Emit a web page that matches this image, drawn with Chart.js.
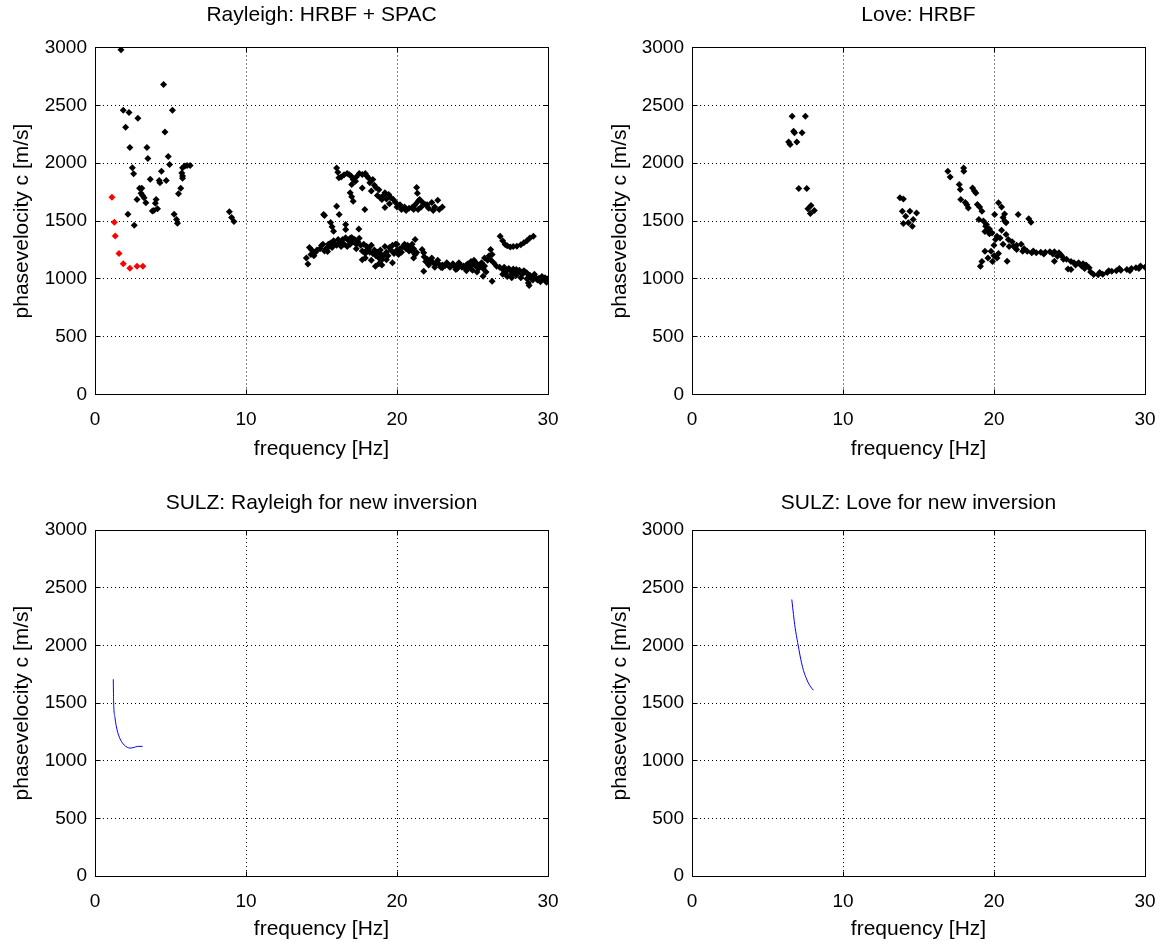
<!DOCTYPE html>
<html>
<head>
<meta charset="utf-8">
<script src="https://cdn.jsdelivr.net/npm/chart.js@4.4.1/dist/chart.umd.min.js"></script>
<style>
html,body{margin:0;padding:0;background:#fff;overflow:hidden;}
#wrap{position:relative;width:1163px;height:942px;background:#fff;}
canvas{position:absolute;display:block;}
</style>
</head>
<body>
<div id="wrap">
<canvas id="c1" width="581" height="471" style="left:0;top:0"></canvas>
<canvas id="c2" width="582" height="471" style="left:581px;top:0"></canvas>
<canvas id="c3" width="581" height="471" style="left:0;top:471px"></canvas>
<canvas id="c4" width="582" height="471" style="left:581px;top:471px"></canvas>
</div>
<script>
// ---------- data (frequency [Hz], phase velocity [m/s]) ----------
const panelTitles = ["Rayleigh: HRBF + SPAC", "Love: HRBF", "SULZ: Rayleigh for new inversion", "SULZ: Love for new inversion"];
const xAxisTitle = "frequency [Hz]";
const yAxisTitle = "phasevelocity c [m/s]";
const xTickValues = [0, 10, 20, 30];
const yTickValues = [0, 500, 1000, 1500, 2000, 2500, 3000];

// Rayleigh HRBF, low-frequency scatter
const rayleighLow = [
 [1.72,2980],[4.54,2680],[1.87,2457],[2.25,2437],[5.13,2457],[2.84,2388],[2.03,2310],[4.63,2270],
 [2.31,2135],[3.44,2135],[4.85,2057],[3.5,2040],[4.94,1988],[5.8,1960],[5.95,1975],[6.1,1980],[6.3,1980],
 [2.47,1960],[2.56,1908],[4.4,1930],[5.75,1915],[5.8,1890],[5.8,1870],[3.66,1861],[4.25,1850],[4.3,1830],
 [4.72,1850],[2.95,1783],[3.1,1783],[5.68,1783],[3.05,1740],[3.15,1720],[3.25,1700],[5.53,1735],[2.78,1685],
 [4.05,1685],[4.0,1653],[3.37,1657],[4.14,1605],[3.8,1587],[3.9,1590],[2.18,1558],[5.24,1558],[5.4,1512],
 [5.46,1480],[2.6,1463],[8.9,1580],[9.05,1530],[9.2,1495]
];
// Rayleigh SPAC (red)
const rayleighSpac = [
 [1.12,1705],[1.28,1489],[1.34,1371],[1.59,1218],[1.87,1130],[2.31,1092],[2.78,1109],[3.17,1109]
];
// Rayleigh HRBF, high-frequency upper branch
const rayleighUpper = [
 [16.0,1959],[16.08,1921],[16.15,1873],[16.7,1910],[16.85,1900],[16.97,1886],[17.1,1858],[17.25,1843],
 [17.5,1910],[17.7,1901],[18.0,1890],[18.1,1873],[18.4,1858],[17.0,1815],[17.7,1786],[16.9,1745],
 [17.0,1710],[17.1,1671],[17.87,1599],[18.6,1790],[18.8,1770],[18.7,1720],[19.0,1685],[19.2,1745],
 [19.45,1730],[19.6,1700],[19.76,1685],[19.9,1660],[20.2,1640],[20.5,1620],[20.8,1610],[21.1,1610],
 [19.2,1616],[21.0,1616],[21.1,1599],[21.3,1790],[21.35,1740],[21.4,1670],[21.5,1685],[21.7,1660],
 [21.9,1640],[21.6,1620],[21.4,1600],[22.0,1640],[22.3,1660],[22.5,1620],[22.7,1680],[23.0,1620],[22.8,1600],
 [16.3,1880],[16.5,1900],[17.3,1880],[17.9,1910],[18.2,1830],[18.5,1810],[18.3,1760],[18.9,1700],
 [19.1,1720],[19.3,1690],[19.5,1650],[20.0,1620],[20.3,1600],[20.6,1590],[21.2,1640],[22.1,1610],[22.4,1590],
 [16.0,1627],[16.17,1556],[15.14,1556],[15.2,1547],[15.6,1486],[15.7,1450],[15.8,1411],[16.6,1469],
 [16.6,1426],[17.47,1431]
];
// Rayleigh HRBF, high-frequency lower branch
const rayleighLower = [
 [14.0,1181],[14.1,1129],[14.2,1270],[14.35,1250],[14.5,1200],[14.7,1250],[15.0,1288],[15.1,1300],
 [15.4,1236],[15.6,1310],[15.8,1330],[16.0,1290],[16.2,1320],[16.4,1340],[16.6,1355],[16.8,1330],
 [17.0,1357],[17.2,1340],[17.4,1320],[17.6,1290],[17.7,1240],[17.9,1220],[18.1,1260],[18.3,1290],
 [18.4,1220],[18.6,1200],[18.8,1180],[19.0,1166],[18.57,1108],[17.7,1166],[19.3,1230],[19.5,1270],
 [19.7,1290],[19.9,1300],[20.2,1260],[20.4,1280],[20.6,1260],[20.8,1240],[21.0,1240],[21.2,1210],
 [19.3,1166],[19.7,1140],[15.3,1260],[15.5,1280],[16.3,1280],[16.9,1300],[17.3,1260],[18.0,1250],
 [18.9,1220],[19.4,1200],[20.0,1250],[20.1,1210],[20.7,1290],[21.0,1300],[21.2,1340],[21.1,1260],
 [21.3,1227],[21.66,1253],[21.77,1225],
 [14.3,1210],[14.6,1230],[14.9,1260],[15.2,1240],[15.45,1300],[15.7,1270],[15.9,1300],[16.1,1340],
 [16.3,1310],[16.5,1300],[16.7,1280],[16.9,1350],[17.1,1320],[17.3,1300],[17.5,1350],[17.8,1300],
 [18.0,1280],[18.2,1230],[18.5,1250],[18.7,1230],[18.9,1250],[19.1,1200],[19.2,1280],[19.6,1250],
 [19.8,1220],[20.0,1300],[20.3,1230],[20.5,1300],[20.9,1270],[21.1,1180],[18.3,1160],[18.8,1130],
 [19.0,1120],[17.9,1180],
 [21.8,1190],[22.0,1170],[22.2,1150],[22.4,1140],[22.6,1130],[22.8,1125],[23.0,1120],[23.2,1115],
 [23.4,1120],[23.6,1110],[23.8,1110],[24.0,1115],[24.2,1120],[24.4,1110],[24.6,1120],[24.8,1100],
 [25.0,1130],[25.2,1110],[25.4,1090],[21.77,1066],[22.5,1100],[23.0,1095],[23.5,1100],[24.0,1090],
 [24.5,1095],[25.0,1075],[25.5,1110],[25.7,1090],
 [21.9,1150],[22.1,1120],[22.3,1180],[22.7,1160],[22.9,1100],[23.3,1140],[23.7,1130],[24.1,1140],
 [24.3,1100],[24.7,1130],[24.9,1150],[25.1,1160],[25.3,1130],[25.6,1140],[25.8,1110],[23.9,1080],
 [24.6,1070],[25.3,1060],[25.9,1060],[26.0,1160],[26.1,1200],[25.8,1180],
 [26.2,1253],[26.3,1210],[26.2,1166],[26.4,1140],[26.6,1108],[25.7,1022],[26.3,979],
 [26.8,1100],[27.0,1080],[27.2,1070],[27.5,1075],[27.7,1085],[27.9,1080],[28.1,1075],[28.4,1070],
 [28.6,1050],[28.8,1030],[29.0,1020],[29.2,1010],[29.4,1005],[29.6,1000],[29.8,990],[30.0,985],
 [27.0,1040],[27.3,1020],[27.6,1010],[27.9,1030],[28.2,1010],[28.6,1000],[28.7,965],[28.75,942],
 [29.0,990],[29.5,975],[29.9,970],
 [27.1,1100],[27.4,1090],[27.8,1060],[28.0,1050],[28.3,1040],[28.5,1060],[28.9,1000],[29.1,1040],
 [29.3,990],[29.6,1020],[29.8,1010],[30.0,1000],[27.2,1050],[27.6,1040],
 [26.83,1368],[27.0,1330],[27.16,1296],[27.3,1285],[27.5,1276],[27.7,1280],[27.94,1282],[28.2,1295],
 [28.4,1311],[28.6,1330],[28.8,1354],[29.03,1368]
];
// Love HRBF
const loveHrbf = [
 [6.63,2405],[7.51,2405],[6.73,2276],[6.79,2262],[7.29,2262],[6.4,2182],[6.5,2161],[6.94,2182],
 [7.07,1780],[7.6,1780],[7.88,1633],[7.68,1605],[8.1,1590],[7.84,1565],
 [13.77,1700],[14.0,1690],[13.93,1584],[14.43,1584],[14.87,1570],[14.15,1541],[14.65,1512],[14.0,1478],
 [14.33,1484],[14.59,1455],
 [16.94,1930],[17.1,1881],[17.99,1959],[18.0,1930],[17.7,1815],[17.77,1772],[18.58,1786],[18.7,1760],
 [18.8,1743],[17.8,1685],[18.1,1660],[18.3,1613],[18.2,1640],[18.9,1642],[19.05,1620],[19.2,1584],
 [19.0,1512],[20.3,1657],[20.04,1556],[20.6,1530],[20.7,1500],[20.8,1484],[21.6,1556],[19.45,1455],
 [19.6,1420],[19.7,1430],[19.87,1397],[19.4,1410],[20.2,1368],[20.4,1354],[20.1,1340],[20.8,1383],
 [20.95,1340],[21.4,1268],[21.5,1253],[19.4,1238],[19.6,1180],[19.8,1238],[20.0,1200],[20.2,1180],
 [19.2,1150],[19.1,1108],[20.87,1152],[22.3,1520],[22.45,1490],
 [19.3,1500],[19.5,1470],[19.7,1390],[20.5,1420],[20.6,1300],[20.0,1290],[19.9,1150],[20.3,1220],
 [21.0,1280],[21.2,1320],[20.5,1620],[20.7,1560],
 [21.3,1282],[21.5,1290],[21.8,1300],[21.9,1238],[22.2,1238],[22.5,1225],[22.8,1225],[23.1,1230],
 [23.4,1230],[23.7,1235],[24.0,1235],[24.3,1225],[24.4,1210],[24.0,1152],[24.5,1195],[24.8,1170],
 [25.1,1150],[25.3,1140],[25.6,1140],[25.9,1130],[26.1,1120],[26.3,1095],[24.9,1085],[25.1,1080],
 [26.4,1060],[26.6,1037],[26.9,1035],[27.2,1040],[27.5,1055],[27.8,1065],[28.1,1070],[28.4,1075],
 [28.8,1080],[29.1,1090],[29.4,1095],[29.7,1110],[30.0,1100],
 [22.0,1260],[22.6,1240],[23.3,1215],[23.9,1215],[24.6,1170],[25.4,1120],[25.8,1110],[26.0,1090],
 [27.0,1055],[27.6,1070],[28.3,1090],[29.0,1070],[29.6,1090],[24.2,1195]
];
// SULZ curves
const sulzRayleighFreq = [1.21,1.23,1.32,1.45,1.67,1.94,2.33,2.6,2.82,3.15];
const sulzRayleighVel  = [1706,1524,1375,1273,1187,1135,1109,1115,1124,1124];
const sulzLoveFreq = [6.61,6.72,6.83,7.0,7.16,7.33,7.55,7.81,8.04];
const sulzLoveVel  = [2397,2268,2153,2023,1908,1807,1720,1649,1611];

// ---------- helpers ----------
const FONT = "'Liberation Sans', Arial, Helvetica, sans-serif";
const TITLE_SIZE = 21, LABEL_SIZE = 21, TICK_SIZE = 19;
const toPts = arr => arr.map(p => ({x: p[0], y: p[1]}));
const toPtsXY = (xs, ys) => xs.map((v, i) => ({x: v, y: ys[i]}));

function scatterSet(pts, color) {
  return {data: toPts(pts), showLine: false, pointStyle: 'rectRot', pointRadius: 3.5,
          pointBackgroundColor: color, pointBorderWidth: 0, pointHoverRadius: 3.5};
}
function lineSet(pts, color) {
  return {data: pts, showLine: true, borderColor: color, borderWidth: 1, pointRadius: 0,
          tension: 0.4, cubicInterpolationMode: 'monotone', fill: false};
}

const al = p => Math.round(p - 0.5) + 0.5;
const boxPlugin = {
  id: 'matlabBox',
  afterDraw(chart) {
    const {ctx, chartArea: a, scales: {x, y}} = chart;
    const L = al(a.left), R = al(a.right), T = al(a.top), B = al(a.bottom);
    ctx.save();
    ctx.setLineDash([]);
    ctx.strokeStyle = '#000';
    ctx.lineWidth = 1;
    ctx.strokeRect(L, T, R - L, B - T);
    ctx.beginPath();
    xTickValues.forEach(v => {
      const px = al(x.getPixelForValue(v));
      ctx.moveTo(px, B); ctx.lineTo(px, B - 5);
      ctx.moveTo(px, T); ctx.lineTo(px, T + 5);
    });
    yTickValues.forEach(v => {
      const py = al(y.getPixelForValue(v));
      ctx.moveTo(L, py); ctx.lineTo(L + 5, py);
      ctx.moveTo(R, py); ctx.lineTo(R - 5, py);
    });
    ctx.stroke();
    ctx.restore();
  }
};

function makePanel(id, title, datasets, g) {
  new Chart(document.getElementById(id), {
    type: 'scatter',
    data: {datasets},
    plugins: [boxPlugin],
    options: {
      responsive: false, animation: false, devicePixelRatio: 1,
      layout: {padding: {left: g.padLeft, right: g.padRight, top: 0, bottom: 0}},
      plugins: {
        legend: {display: false}, tooltip: {enabled: false},
        title: {display: true, text: title, color: '#000', fullSize: false,
                font: {family: FONT, size: TITLE_SIZE, weight: 'normal', lineHeight: 1.2},
                padding: {top: g.tTop, bottom: g.tBot}}
      },
      scales: {
        x: {
          type: 'linear', position: 'bottom', min: 0, max: 30,
          afterBuildTicks: s => { s.ticks = xTickValues.map(v => ({value: v})); },
          afterFit: s => { s.height = g.xHeight; s.paddingLeft = 0; s.paddingRight = 0; },
          ticks: {color: '#000', font: {family: FONT, size: TICK_SIZE}, padding: 14.3, maxRotation: 0,
                  callback: v => String(v)},
          grid: {color: '#000', lineWidth: 1, drawTicks: false},
          border: {display: false, dash: [1, 3]},
          title: {display: true, text: xAxisTitle, color: '#000',
                  font: {family: FONT, size: LABEL_SIZE, lineHeight: 1.2}, padding: {top: 0, bottom: g.xtBot}}
        },
        y: {
          type: 'linear', position: 'left', min: 0, max: 3000,
          afterBuildTicks: s => { s.ticks = yTickValues.map(v => ({value: v})); },
          afterFit: s => { s.width = g.yWidth; s.paddingTop = 0; s.paddingBottom = 0; },
          ticks: {color: '#000', font: {family: FONT, size: TICK_SIZE}, padding: 8,
                  callback: v => String(v)},
          grid: {color: '#000', lineWidth: 1, drawTicks: false},
          border: {display: false, dash: [1, 3]},
          title: {display: true, text: yAxisTitle, color: '#000',
                  font: {family: FONT, size: LABEL_SIZE, lineHeight: 1.2}, padding: {top: 9.4, bottom: 0}}
        }
      }
    }
  });
}

const gTopLeft  = {padLeft: 0,  padRight: 33, tTop: 2.4,  tBot: 19.9, xHeight: 76.5, xtBot: 9.4, yWidth: 95};
const gTopRight = {padLeft: 17, padRight: 18, tTop: 2.4,  tBot: 19.9, xHeight: 76.5, xtBot: 9.4, yWidth: 94};
const gBotLeft  = {padLeft: 0,  padRight: 33, tTop: 19.4, tBot: 14.4, xHeight: 66,   xtBot: 0,   yWidth: 95};
const gBotRight = {padLeft: 17, padRight: 18, tTop: 19.4, tBot: 14.4, xHeight: 66,   xtBot: 0,   yWidth: 94};

makePanel('c1', panelTitles[0], [
  scatterSet(rayleighLow, '#000'),
  scatterSet(rayleighUpper, '#000'),
  scatterSet(rayleighLower, '#000'),
  scatterSet(rayleighSpac, '#ff0000')
], gTopLeft);
makePanel('c2', panelTitles[1], [scatterSet(loveHrbf, '#000')], gTopRight);
makePanel('c3', panelTitles[2], [lineSet(toPtsXY(sulzRayleighFreq, sulzRayleighVel), '#0000ff')], gBotLeft);
makePanel('c4', panelTitles[3], [lineSet(toPtsXY(sulzLoveFreq, sulzLoveVel), '#0000ff')], gBotRight);
</script>
</body>
</html>
